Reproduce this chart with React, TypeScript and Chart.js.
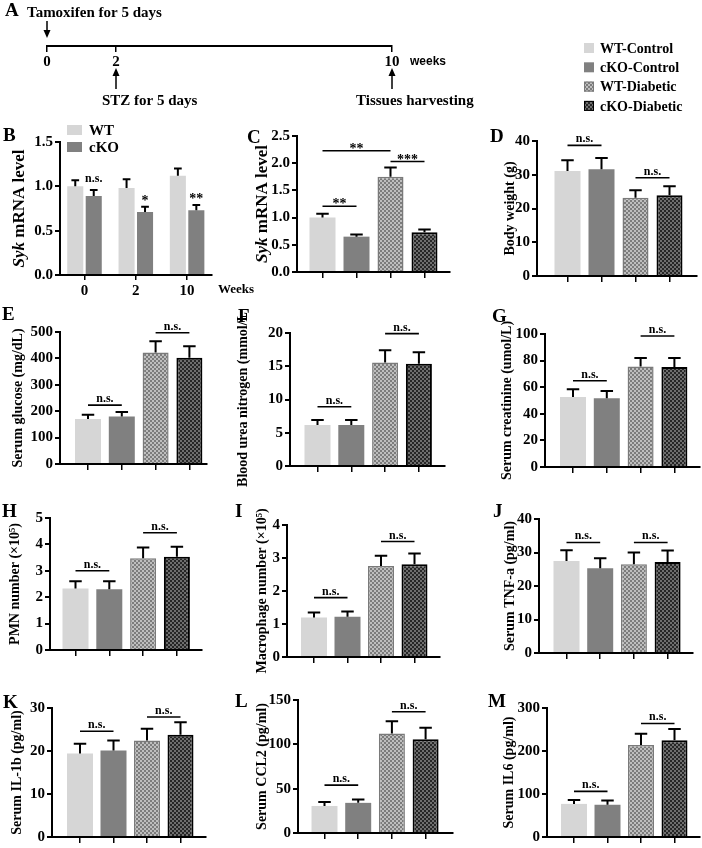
import React, { useEffect, useRef } from 'react';
import { Chart, registerables } from 'chart.js';

Chart.register(...registerables);

const SERIF = "'Liberation Serif', 'Times New Roman', 'DejaVu Serif', serif";
const SANS = "'Liberation Sans', Arial, 'DejaVu Sans', sans-serif";
const W = 702;
const H = 848;

// ---------------- data ----------------
const groups = ['WT-Control', 'cKO-Control', 'WT-Diabetic', 'cKO-Diabetic'];

const timelineWeeks = [0, 2, 10];
const timelineLabels = ['0', '2', '10'];
const timelineUnit = 'weeks';
const eventNames = ['Tamoxifen for 5 days', 'STZ for 5 days', 'Tissues harvesting'];
const eventWeeks = [0, 2, 10];

const bWeeks = ['0', '2', '10'];
const bSeries = ['WT', 'cKO'];
const bWT = [1.0, 0.98, 1.12];
const bWTErr = [0.07, 0.1, 0.08];
const bCKO = [0.89, 0.71, 0.73];
const bCKOErr = [0.07, 0.06, 0.06];
const bSig = ['n.s.', '*', '**'];

type Bracket = { from: number; to: number; at: number; label: string };

const cSyk = [1.0, 0.65, 1.75, 0.73];
const cSykErr = [0.07, 0.04, 0.17, 0.05];
const cSig: Bracket[] = [
  { from: 0, to: 2, at: 2.23, label: '**' },
  { from: 2, to: 3, at: 2.03, label: '***' },
  { from: 0, to: 1, at: 1.21, label: '**' },
];

const dWeight = [31.1, 31.6, 23.2, 23.9];
const dWeightErr = [3.2, 3.4, 2.2, 2.7];
const dSig: Bracket[] = [
  { from: 0, to: 1, at: 38.7, label: 'n.s.' },
  { from: 2, to: 3, at: 29.1, label: 'n.s.' },
];

const eGlucose = [170, 180, 422, 402];
const eGlucoseErr = [17, 17, 43, 44];
const eSig: Bracket[] = [
  { from: 0, to: 1, at: 223, label: 'n.s.' },
  { from: 2, to: 3, at: 497, label: 'n.s.' },
];

const fBun = [6.15, 6.15, 15.55, 15.36];
const fBunErr = [0.75, 0.75, 1.85, 1.75];
const fSig: Bracket[] = [
  { from: 0, to: 1, at: 8.9, label: 'n.s.' },
  { from: 2, to: 3, at: 19.9, label: 'n.s.' },
];

const gCrea = [52.6, 51.7, 75.6, 75.1];
const gCreaErr = [5.9, 5.5, 6.3, 6.8];
const gSig: Bracket[] = [
  { from: 0, to: 1, at: 64.9, label: 'n.s.' },
  { from: 2, to: 3, at: 98.5, label: 'n.s.' },
];

const hPmn = [2.33, 2.3, 3.48, 3.53];
const hPmnErr = [0.27, 0.3, 0.4, 0.38];
const hSig: Bracket[] = [
  { from: 0, to: 1, at: 3.0, label: 'n.s.' },
  { from: 2, to: 3, at: 4.44, label: 'n.s.' },
];

const iMac = [1.2, 1.22, 2.76, 2.81];
const iMacErr = [0.15, 0.16, 0.31, 0.33];
const iSig: Bracket[] = [
  { from: 0, to: 1, at: 1.8, label: 'n.s.' },
  { from: 2, to: 3, at: 3.5, label: 'n.s.' },
];

const jTnf = [27.5, 25.3, 26.5, 27.2];
const jTnfErr = [3.2, 3.0, 3.5, 3.4];
const jSig: Bracket[] = [
  { from: 0, to: 1, at: 33, label: 'n.s.' },
  { from: 2, to: 3, at: 33, label: 'n.s.' },
];

const kIl1b = [19.4, 20.1, 22.45, 23.8];
const kIl1bErr = [2.3, 2.35, 2.75, 2.9];
const kSig: Bracket[] = [
  { from: 0, to: 1, at: 24.6, label: 'n.s.' },
  { from: 2, to: 3, at: 27.9, label: 'n.s.' },
];

const lCcl2 = [30.5, 34, 112.3, 105.6];
const lCcl2Err = [4.5, 3.8, 13.7, 13.2];
const lSig: Bracket[] = [
  { from: 0, to: 1, at: 54, label: 'n.s.' },
  { from: 2, to: 3, at: 136.8, label: 'n.s.' },
];

const mIl6 = [77, 75, 214, 225];
const mIl6Err = [9, 10, 26, 26];
const mSig: Bracket[] = [
  { from: 0, to: 1, at: 106, label: 'n.s.' },
  { from: 2, to: 3, at: 264, label: 'n.s.' },
];

// ---------------- layout (page coordinates) ----------------
interface BarPanel {
  letter: string;
  letterX: number;
  letterY: number;
  title: string;
  italic?: string;
  titleX: number;
  aL: number;
  aR: number;
  tY: number;
  zY: number;
  c0: number;
  sp: number;
  yMax: number;
  yStep: number;
  dec: number;
  values: number[];
  errors: number[];
  brackets: Bracket[];
}

const barPanels: BarPanel[] = [
  { letter: 'C', letterX: 247, letterY: 143, italic: 'Syk', title: ' mRNA level', titleX: 263, aL: 297, aR: 450, tY: 136, zY: 272, c0: 322.5, sp: 34, yMax: 2.5, yStep: 0.5, dec: 1, values: cSyk, errors: cSykErr, brackets: cSig },
  { letter: 'D', letterX: 490, letterY: 142, title: 'Body weight (g)', titleX: 510, aL: 537, aR: 697, tY: 141, zY: 276, c0: 567.5, sp: 34, yMax: 40, yStep: 10, dec: 0, values: dWeight, errors: dWeightErr, brackets: dSig },
  { letter: 'E', letterX: 2, letterY: 320, title: 'Serum glucose (mg/dL)', titleX: 18, aL: 60, aR: 207, tY: 332, zY: 464, c0: 88, sp: 33.8, yMax: 500, yStep: 100, dec: 0, values: eGlucose, errors: eGlucoseErr, brackets: eSig },
  { letter: 'F', letterX: 238, letterY: 322, title: 'Blood urea nitrogen (mmol/L', titleX: 243, aL: 290, aR: 445, tY: 333, zY: 466, c0: 317.5, sp: 33.8, yMax: 20, yStep: 5, dec: 0, values: fBun, errors: fBunErr, brackets: fSig },
  { letter: 'G', letterX: 492, letterY: 322, title: 'Serum creatinine (umol/L)', titleX: 507, aL: 545, aR: 700, tY: 334, zY: 467, c0: 573, sp: 33.8, yMax: 100, yStep: 20, dec: 0, values: gCrea, errors: gCreaErr, brackets: gSig },
  { letter: 'H', letterX: 2, letterY: 517, title: 'PMN number (\u00d710\u2075)', titleX: 15, aL: 50, aR: 202, tY: 518, zY: 650, c0: 75.5, sp: 33.8, yMax: 5, yStep: 1, dec: 0, values: hPmn, errors: hPmnErr, brackets: hSig },
  { letter: 'I', letterX: 235, letterY: 517, title: 'Macrophage number (\u00d710\u2075)', titleX: 262, aL: 287, aR: 440, tY: 525, zY: 657, c0: 314, sp: 33.5, yMax: 4, yStep: 1, dec: 0, values: iMac, errors: iMacErr, brackets: iSig },
  { letter: 'J', letterX: 493, letterY: 517, title: 'Serum TNF-a (pg/ml)', titleX: 510, aL: 539, aR: 693, tY: 519, zY: 653, c0: 566.5, sp: 33.7, yMax: 40, yStep: 10, dec: 0, values: jTnf, errors: jTnfErr, brackets: jSig },
  { letter: 'K', letterX: 3, letterY: 708, title: 'Serum IL-1b (pg/ml)', titleX: 17, aL: 52, aR: 206, tY: 708, zY: 842, c0: 80, sp: 33.5, yMax: 30, yStep: 10, dec: 0, values: kIl1b, errors: kIl1bErr, brackets: kSig },
  { letter: 'L', letterX: 235, letterY: 707, title: 'Serum CCL2 (pg/ml)', titleX: 262, aL: 298, aR: 453, tY: 700, zY: 833, c0: 324.5, sp: 33.7, yMax: 150, yStep: 50, dec: 0, values: lCcl2, errors: lCcl2Err, brackets: lSig },
  { letter: 'M', letterX: 488, letterY: 707, title: 'Serum IL6 (pg/ml)', titleX: 509, aL: 547, aR: 700, tY: 708, zY: 842, c0: 574, sp: 33.5, yMax: 300, yStep: 100, dec: 0, values: mIl6, errors: mIl6Err, brackets: mSig },
];

const TITLE_SIZE = 14;
const RICH_TITLE_SIZE = 17;
const TICK_FONT = { family: SERIF, size: 15, weight: 'bold' as const };
const TITLE_FONT = { family: SERIF, size: TITLE_SIZE, weight: 'bold' as const };
const LIGHT = '#d6d6d6';
const DARK = '#808080';

function makePattern(a: string, b: string, cell: number): CanvasPattern | string {
  const c = document.createElement('canvas');
  c.width = cell * 2;
  c.height = cell * 2;
  const g = c.getContext('2d');
  if (!g) return a;
  g.fillStyle = a;
  g.fillRect(0, 0, cell * 2, cell * 2);
  g.fillStyle = b;
  g.fillRect(0, 0, cell, cell);
  g.fillRect(cell, cell, cell, cell);
  return g.createPattern(c, 'repeat') || a;
}

// ---------------- plugins ----------------
const errorBarPlugin = {
  id: 'errorBars',
  afterDatasetsDraw(chart: any) {
    const ctx = chart.ctx;
    const ys = chart.scales.y;
    chart.data.datasets.forEach((ds: any, di: number) => {
      if (!ds.errors) return;
      const meta = chart.getDatasetMeta(di);
      meta.data.forEach((bar: any, i: number) => {
        const raw = ds.data[i];
        const v = typeof raw === 'number' ? raw : raw.y;
        const top = ys.getPixelForValue(v + ds.errors[i]);
        const half = bar.width * 0.24;
        ctx.save();
        ctx.strokeStyle = '#000';
        ctx.lineWidth = 2;
        ctx.beginPath();
        ctx.moveTo(bar.x, bar.y);
        ctx.lineTo(bar.x, top);
        ctx.moveTo(bar.x - half, top);
        ctx.lineTo(bar.x + half, top);
        ctx.stroke();
        ctx.restore();
      });
    });
  },
};

function bracketPlugin(brackets: Bracket[]) {
  return {
    id: 'brackets',
    afterDatasetsDraw(chart: any) {
      const ctx = chart.ctx;
      const xs = chart.scales.x;
      const ys = chart.scales.y;
      brackets.forEach((b) => {
        const x1 = xs.getPixelForValue(b.from);
        const x2 = xs.getPixelForValue(b.to);
        const y = ys.getPixelForValue(b.at);
        ctx.save();
        ctx.strokeStyle = '#000';
        ctx.lineWidth = 1.6;
        ctx.beginPath();
        ctx.moveTo(x1, y);
        ctx.lineTo(x2, y);
        ctx.stroke();
        const star = b.label.indexOf('*') >= 0;
        ctx.font = star ? `bold 14px ${SERIF}` : `bold 12px ${SERIF}`;
        ctx.fillStyle = '#000';
        ctx.textAlign = 'center';
        ctx.textBaseline = 'alphabetic';
        ctx.fillText(b.label, (x1 + x2) / 2, star ? y + 2 : y - 3);
        ctx.restore();
      });
    },
  };
}

type TextItem = { text: string; x: number; y: number; font: string; align?: CanvasTextAlign; baseline?: CanvasTextBaseline };

function textPlugin(items: TextItem[]) {
  return {
    id: 'texts',
    afterDraw(chart: any) {
      const ctx = chart.ctx;
      ctx.save();
      ctx.fillStyle = '#000';
      items.forEach((t) => {
        ctx.font = t.font;
        ctx.textAlign = t.align || 'left';
        ctx.textBaseline = t.baseline || 'alphabetic';
        ctx.fillText(t.text, t.x, t.y);
      });
      ctx.restore();
    },
  };
}

function richTitlePlugin(x: number, italic: string, rest: string) {
  return {
    id: 'richTitle',
    afterDraw(chart: any) {
      const ctx = chart.ctx;
      const ca = chart.chartArea;
      const cy = (ca.top + ca.bottom) / 2;
      const fI = `italic bold ${RICH_TITLE_SIZE}px ${SERIF}`;
      const fB = `bold ${RICH_TITLE_SIZE}px ${SERIF}`;
      ctx.save();
      ctx.translate(x, cy);
      ctx.rotate(-Math.PI / 2);
      ctx.fillStyle = '#000';
      ctx.textBaseline = 'middle';
      ctx.textAlign = 'left';
      ctx.font = fI;
      const w1 = ctx.measureText(italic).width;
      ctx.font = fB;
      const w2 = ctx.measureText(rest).width;
      let cx = -(w1 + w2) / 2;
      ctx.font = fI;
      ctx.fillText(italic, cx, 0);
      cx += w1;
      ctx.font = fB;
      ctx.fillText(rest, cx, 0);
      ctx.restore();
    },
  };
}

function letterItem(letter: string, x: number, y: number): TextItem {
  return { text: letter, x, y, font: `bold 19px ${SERIF}` };
}

function yScale(p: { aL: number; titleX: number; yMax: number; yStep: number; dec: number; title: string; italic?: string }) {
  const padLeft = p.titleX - (TITLE_SIZE * 1.2) / 2;
  const yW = p.aL - padLeft;
  return {
    padLeft,
    scale: {
      min: 0,
      max: p.yMax,
      z: 1,
      afterFit: (s: any) => {
        s.width = yW;
      },
      ticks: {
        stepSize: p.yStep,
        font: TICK_FONT,
        color: '#000',
        padding: 2,
        callback: (v: any) => Number(v).toFixed(p.dec),
      },
      grid: { drawOnChartArea: false, drawTicks: true, tickLength: 5, color: '#000', lineWidth: 2 },
      border: { display: true, color: '#000', width: 2 },
      title: {
        display: !p.italic,
        text: p.title,
        font: TITLE_FONT,
        color: '#000',
        padding: 0,
      },
    },
  };
}

// ---------------- chart builders ----------------
function buildTimeline(canvas: HTMLCanvasElement, fills: any[], borders: string[], bws: number[]) {
  const lineY = 46;
  const xH = 26;
  const textOffsets = [-20, -14, -36];
  const timelinePlugin = {
    id: 'timeline',
    afterDraw(chart: any) {
      const ctx = chart.ctx;
      const xs = chart.scales.x;
      const base = chart.chartArea.bottom;
      ctx.save();
      ctx.strokeStyle = '#000';
      ctx.fillStyle = '#000';
      ctx.lineWidth = 1.5;
      eventWeeks.forEach((wk, i) => {
        const px = xs.getPixelForValue(wk);
        let y0: number, y1: number, tipDir: number;
        if (i === 0) {
          y0 = base - 25;
          y1 = base - 8;
          tipDir = 1;
        } else {
          y0 = base + 43;
          y1 = base + 22;
          tipDir = -1;
        }
        ctx.beginPath();
        ctx.moveTo(px, y0);
        ctx.lineTo(px, y1 - tipDir * 2);
        ctx.stroke();
        ctx.beginPath();
        ctx.moveTo(px, y1);
        ctx.lineTo(px - 3.5, y1 - tipDir * 8);
        ctx.lineTo(px + 3.5, y1 - tipDir * 8);
        ctx.closePath();
        ctx.fill();
        ctx.font = `bold 15px ${SERIF}`;
        ctx.textAlign = 'left';
        ctx.textBaseline = 'alphabetic';
        ctx.fillText(eventNames[i], px + textOffsets[i], i === 0 ? base - 29 : base + 59);
      });
      const pEnd = xs.getPixelForValue(timelineWeeks[timelineWeeks.length - 1]);
      ctx.font = `bold 12px ${SANS}`;
      ctx.textBaseline = 'middle';
      ctx.fillText(timelineUnit, pEnd + 18, base + 16);

      // group legend
      const lx = 584;
      groups.forEach((g, i) => {
        const cy = 48 + i * 19.3;
        ctx.fillStyle = fills[i];
        ctx.fillRect(lx, cy - 5, 10, 10);
        if (bws[i] > 0) {
          ctx.strokeStyle = borders[i];
          ctx.lineWidth = 1;
          ctx.strokeRect(lx + 0.5, cy - 4.5, 9, 9);
        }
        ctx.fillStyle = '#000';
        ctx.font = `bold 14px ${SERIF}`;
        ctx.textBaseline = 'middle';
        ctx.fillText(g, lx + 16, cy + 1);
      });
      ctx.restore();
    },
  };
  return new Chart(canvas, {
    type: 'scatter',
    data: { datasets: [{ data: eventWeeks.map((w) => ({ x: w, y: 0 })), pointRadius: 0 }] },
    options: {
      responsive: false,
      animation: false,
      devicePixelRatio: 1,
      events: [],
      layout: { padding: { left: 47, right: W - 392, top: 20, bottom: H - lineY - xH } },
      plugins: { legend: { display: false }, tooltip: { enabled: false } },
      scales: {
        x: {
          type: 'linear',
          min: 0,
          max: 10,
          offset: false,
          afterBuildTicks: (s: any) => {
            s.ticks = timelineWeeks.map((v) => ({ value: v }));
          },
          afterFit: (s: any) => {
            s.height = xH;
          },
          ticks: {
            autoSkip: false,
            maxRotation: 0,
            padding: 1,
            font: { family: SERIF, size: 15, weight: 'bold' },
            color: '#000',
            callback: (_v: any, i: number) => timelineLabels[i],
          },
          grid: { drawOnChartArea: false, tickLength: 6, color: '#000', lineWidth: 1.5, offset: false },
          border: { display: true, color: '#000', width: 2 },
        },
        y: { display: false, min: -1, max: 1 },
      },
    } as any,
    plugins: [timelinePlugin, textPlugin([letterItem('A', 5, 16)])],
  });
}

function buildB(canvas: HTMLCanvasElement) {
  const aL = 60, aR = 212, tY = 142, zY = 275, c0 = 84.5, sp = 51.3;
  const xH = 28;
  const ys = yScale({ aL, titleX: 20, yMax: 1.5, yStep: 0.5, dec: 1, title: ' mRNA level', italic: 'Syk' });
  const sigPlugin = {
    id: 'bSig',
    afterDatasetsDraw(chart: any) {
      const ctx = chart.ctx;
      const meta = chart.getDatasetMeta(1);
      const y = chart.scales.y;
      ctx.save();
      ctx.fillStyle = '#000';
      ctx.textAlign = 'center';
      meta.data.forEach((bar: any, i: number) => {
        const top = y.getPixelForValue(bCKO[i] + bCKOErr[i]);
        const star = bSig[i].indexOf('*') >= 0;
        ctx.font = star ? `bold 14px ${SERIF}` : `bold 12px ${SERIF}`;
        ctx.fillText(bSig[i], bar.x, star ? top - 2 : top - 8);
      });
      ctx.restore();
    },
  };
  const legendPlugin = {
    id: 'bLegend',
    afterDraw(chart: any) {
      const ctx = chart.ctx;
      ctx.save();
      chart.data.datasets.forEach((ds: any, i: number) => {
        const cy = 130 + i * 17;
        ctx.fillStyle = ds.backgroundColor;
        ctx.fillRect(67, cy - 5, 15, 10);
        ctx.fillStyle = '#000';
        ctx.font = `bold 15px ${SERIF}`;
        ctx.textBaseline = 'middle';
        ctx.textAlign = 'left';
        ctx.fillText(ds.label, 89, cy + 1);
      });
      ctx.restore();
    },
  };
  return new Chart(canvas, {
    type: 'bar',
    data: {
      datasets: [
        { label: bSeries[0], data: bWT.map((v, i) => ({ x: i, y: v })), errors: bWTErr, backgroundColor: LIGHT, categoryPercentage: 0.72, barPercentage: 0.87 },
        { label: bSeries[1], data: bCKO.map((v, i) => ({ x: i, y: v })), errors: bCKOErr, backgroundColor: DARK, categoryPercentage: 0.72, barPercentage: 0.87 },
      ] as any,
    },
    options: {
      responsive: false,
      animation: false,
      devicePixelRatio: 1,
      events: [],
      layout: { padding: { left: ys.padLeft, right: W - aR, top: tY, bottom: H - zY - xH } },
      plugins: { legend: { display: false }, tooltip: { enabled: false } },
      scales: {
        x: {
          type: 'linear',
          min: (aL - c0) / sp,
          max: (aR - c0) / sp,
          offset: false,
          z: 1,
          afterBuildTicks: (s: any) => {
            s.ticks = bWeeks.map((_, i) => ({ value: i }));
          },
          afterFit: (s: any) => {
            s.height = xH;
          },
          ticks: { autoSkip: false, maxRotation: 0, padding: 2, font: TICK_FONT, color: '#000', callback: (_v: any, i: number) => bWeeks[i] },
          grid: { drawOnChartArea: false, tickLength: 5, color: '#000', lineWidth: 1.5, offset: false },
          border: { display: true, color: '#000', width: 2 },
        },
        y: ys.scale,
      },
    } as any,
    plugins: [
      errorBarPlugin,
      sigPlugin,
      legendPlugin,
      richTitlePlugin(20, 'Syk', ' mRNA level'),
      textPlugin([
        letterItem('B', 3, 141),
        { text: 'Weeks', x: 218, y: 290, font: `bold 13px ${SERIF}`, baseline: 'middle' },
      ]),
    ],
  });
}

function buildPanel(canvas: HTMLCanvasElement, p: BarPanel, fills: any[], borders: string[], bws: number[]) {
  const xH = 6;
  const ys = yScale(p);
  const plugins: any[] = [errorBarPlugin, bracketPlugin(p.brackets), textPlugin([letterItem(p.letter, p.letterX, p.letterY)])];
  if (p.italic) plugins.push(richTitlePlugin(p.titleX, p.italic, p.title));
  return new Chart(canvas, {
    type: 'bar',
    data: {
      datasets: [
        {
          label: p.title,
          data: p.values.map((v, i) => ({ x: i, y: v })),
          errors: p.errors,
          backgroundColor: fills,
          borderColor: borders,
          borderWidth: bws,
          categoryPercentage: 1,
          barPercentage: 26 / p.sp,
        },
      ] as any,
    },
    options: {
      responsive: false,
      animation: false,
      devicePixelRatio: 1,
      events: [],
      layout: { padding: { left: ys.padLeft, right: W - p.aR, top: p.tY, bottom: H - p.zY - xH } },
      plugins: { legend: { display: false }, tooltip: { enabled: false } },
      scales: {
        x: {
          type: 'linear',
          min: (p.aL - p.c0) / p.sp,
          max: (p.aR - p.c0) / p.sp,
          offset: false,
          z: 1,
          afterBuildTicks: (s: any) => {
            s.ticks = groups.map((_, i) => ({ value: i }));
          },
          afterFit: (s: any) => {
            s.height = xH;
          },
          ticks: { display: false },
          grid: { drawOnChartArea: false, tickLength: 6, color: '#000', lineWidth: 1.5, offset: false },
          border: { display: true, color: '#000', width: 2 },
        },
        y: ys.scale,
      },
    } as any,
    plugins,
  });
}

export default function App() {
  const refs = useRef<(HTMLCanvasElement | null)[]>([]);
  const count = barPanels.length + 2;

  useEffect(() => {
    Chart.defaults.font.family = SERIF;
    Chart.defaults.color = '#000';
    const patWT = makePattern('#7c7c7c', '#bebebe', 2);
    const patKO = makePattern('#262626', '#6e6e6e', 2);
    const fills = [LIGHT, DARK, patWT, patKO];
    const borders = ['rgba(0,0,0,0)', 'rgba(0,0,0,0)', '#7a7a7a', '#000000'];
    const bws = [0, 0, 1.5, 2];
    const charts: Chart[] = [];
    const cv = refs.current;
    if (cv[0]) charts.push(buildTimeline(cv[0], fills, borders, bws));
    if (cv[1]) charts.push(buildB(cv[1]));
    barPanels.forEach((p, i) => {
      const c = cv[i + 2];
      if (c) charts.push(buildPanel(c, p, fills, borders, bws));
    });
    return () => {
      charts.forEach((c) => c.destroy());
    };
  }, []);

  return (
    <div style={{ position: 'absolute', left: 0, top: 0, width: W, height: H, background: '#fff', overflow: 'hidden' }}>
      {Array.from({ length: count }).map((_, i) => (
        <canvas
          key={i}
          ref={(el) => {
            refs.current[i] = el;
          }}
          width={W}
          height={H}
          style={{ position: 'absolute', left: 0, top: 0, width: W, height: H }}
        />
      ))}
    </div>
  );
}
